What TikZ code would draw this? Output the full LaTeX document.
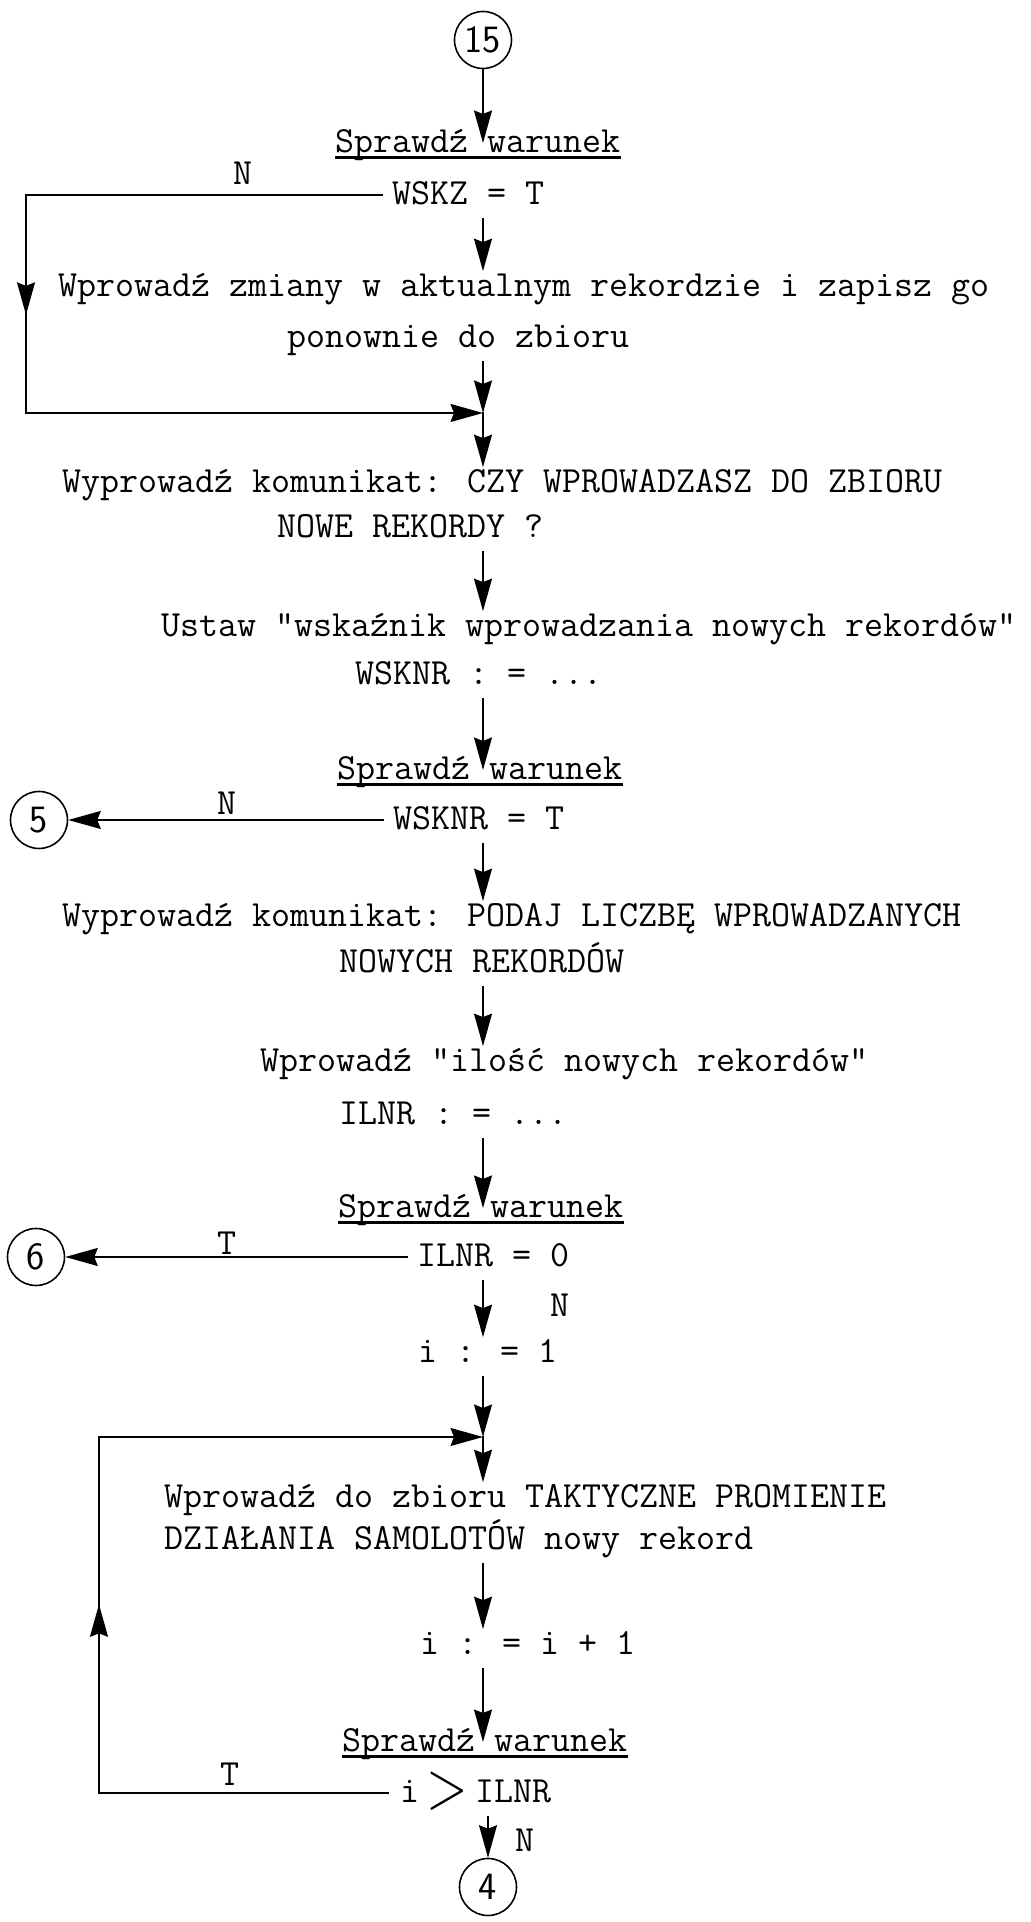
\documentclass[tikz,border=0pt]{standalone}
\usepackage{fontspec}
\usetikzlibrary{arrows.meta, decorations.markings}

\tikzset{
	wire/.style={line width=0.8pt, line cap=rect},
	flow/.style={wire, -{Stealth[length=6.5mm, width=3.6mm, inset=0.7mm]}},
	flowgap/.style={flow, shorten <=1.5mm},
	midarrow/.style={wire, postaction={decorate}, decoration={markings, mark=at position #1 with {\arrow{Stealth[length=6.5mm, width=3.6mm, inset=0.7mm]}}}},
	txt/.style={anchor=west, inner sep=0pt, text height=0.5cm, text depth=0.12cm},
	conn/.style={circle, draw, line width=0.9pt, minimum size=1.14cm, inner sep=0pt, font=\sffamily\fontsize{22}{22}\selectfont},
	uline/.style={line width=1.5pt}
}

\begin{document}
\begin{tikzpicture}[every node/.style={font=\ttfamily\fontsize{21}{24}\selectfont}]
		\useasboundingbox (-9.66,0) rectangle (10.96,38.44);
		\coordinate (ax) at (0,0);
		\node[conn] (c15) at (0,37.64) {15};
		\node[txt] (chk1) at (-2.96,35.58) {Sprawdź warunek};
		\node[txt] (wskz) at (-1.82,34.54) {WSKZ = T};
		\node (n1) at (-4.8,34.98) {N};
		\node[txt] (zm1) at (-8.5,32.70) {Wprowadź zmiany w aktualnym rekordzie i zapisz go};
		\node[txt] (zm2) at (-3.92,31.68) {ponownie do zbioru};
		\coordinate (m1) at (0,30.18);
		\node[txt] (czy1) at (-8.42,28.78) {Wyprowadź komunikat: CZY WPROWADZASZ DO ZBIORU};
		\node[txt] (czy2) at (-4.12,27.88) {NOWE REKORDY ?};
		\node[txt] (ust1) at (-6.44,25.90) {Ustaw "wskaźnik wprowadzania nowych rekordów"};
		\node[txt] (ust2) at (-2.56,24.94) {WSKNR : = ...};
		\node[txt] (chk2) at (-2.92,23.04) {Sprawdź warunek};
		\node[txt] (wsknr) at (-1.80,22.04) {WSKNR = T};
		\node (n2) at (-5.12,22.38) {N};
		\node[conn] (c5) at (-8.88,22.04) {5};
		\node[txt] (pod1) at (-8.42,20.10) {Wyprowadź komunikat: PODAJ LICZBĘ WPROWADZANYCH};
		\node[txt] (pod2) at (-2.88,19.18) {NOWYCH REKORDÓW};
		\node[txt] (il1) at (-4.46,17.20) {Wprowadź "ilość nowych rekordów"};
		\node[txt] (il2) at (-2.88,16.14) {ILNR : = ...};
		\node[txt] (chk3) at (-2.90,14.28) {Sprawdź warunek};
		\node[txt] (ilnr0) at (-1.32,13.30) {ILNR = 0};
		\node (t1) at (-5.12,13.58) {T};
		\node[conn] (c6) at (-8.94,13.30) {6};
		\node (n3) at (1.54,12.34) {N};
		\node[txt] (i1) at (-1.30,11.38) {i : = 1};
		\coordinate (m2) at (0,9.70);
		\node[txt] (tak1) at (-6.38,8.48) {Wprowadź do zbioru TAKTYCZNE PROMIENIE};
		\node[txt] (tak2) at (-6.38,7.64) {DZIAŁANIA SAMOLOTÓW nowy rekord};
		\node[txt] (ii) at (-1.26,5.54) {i : = i + 1};
		\node[txt] (chk4) at (-2.82,3.60) {Sprawdź warunek};
		\node[txt] (igt) at (-1.66,2.58) {i\hspace{4pt}\raisebox{-3.5pt}{\scalebox{1.5}[1.9]{$>$}}\hspace{4pt}ILNR};
		\node (t2) at (-5.06,2.96) {T};
		\node (n4) at (0.84,1.64) {N};
		\node[conn] (c4) at (0.1,0.70) {4};

		\foreach \c in {chk1,chk2,chk3,chk4}
			\draw[uline] ([yshift=0.25mm]\c.south west) -- ([yshift=0.25mm]\c.south east);

		\draw[flow] (c15) -- (c15.south |- chk1.center);
		\draw[flowgap] (wskz.south -| ax) -- (zm1.north -| ax);
		\draw[flowgap] (zm2.south -| ax) -- (m1);
		\draw[flow] (m1) -- (czy1.north -| ax);
		\draw[flowgap] (czy2.south -| ax) -- (ust1.north -| ax);
		\draw[flowgap] (ust2.south -| ax) -- (chk2.center -| ax);
		\draw[flowgap] (wsknr.south -| ax) -- (pod1.north -| ax);
		\draw[flowgap] (pod2.south -| ax) -- (il1.north -| ax);
		\draw[flowgap] (il2.south -| ax) -- (chk3.center -| ax);
		\draw[flowgap] (ilnr0.south -| ax) -- (i1.north -| ax);
		\draw[flowgap] (i1.south -| ax) -- (m2);
		\draw[flow] (m2) -- (tak1.north -| ax);
		\draw[flowgap] (tak2.south -| ax) -- (ii.north -| ax);
		\draw[flowgap] (ii.south -| ax) -- (chk4.center -| ax);
		\draw[flowgap] (igt.south -| c4) -- (c4);

		\coordinate (c1t) at (-9.14,34.54);
		\coordinate (c1b) at (-9.14,30.18);
		\draw[wire, shorten <=2mm] (wskz.west) -- (c1t);
		\draw[midarrow=0.55] (c1t) -- (c1b);
		\draw[flow] (c1b) -- (m1);

		\draw[flow, shorten <=2mm] (wsknr.west) -- (c5);
		\draw[flow, shorten <=2mm] (ilnr0.west) -- (c6);

		\coordinate (l1) at (-7.68,2.58);
		\coordinate (l2) at (-7.68,9.70);
		\draw[wire, shorten <=2.4mm] (igt.west) -- (l1);
		\draw[midarrow=0.53] (l1) -- (l2);
		\draw[flow] (l2) -- (m2);
	\end{tikzpicture}
\end{document}
